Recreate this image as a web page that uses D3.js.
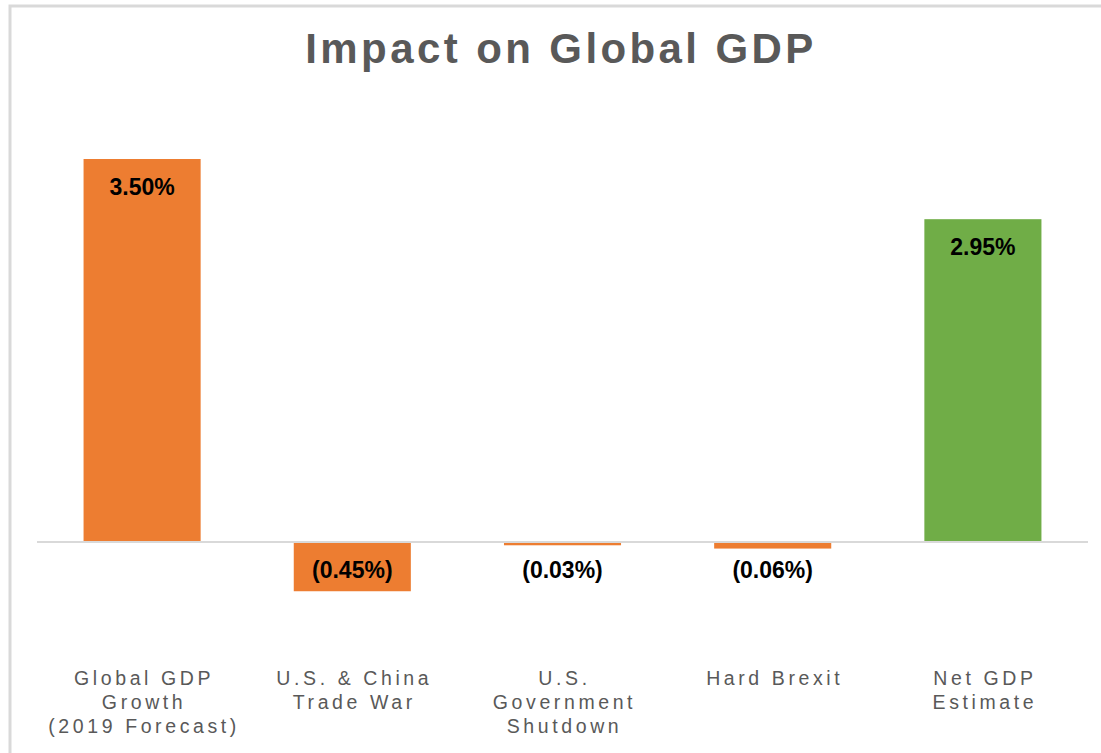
<!DOCTYPE html>
<html>
<head>
<meta charset="utf-8">
<script src="https://cdn.jsdelivr.net/npm/d3@7"></script>
<style>
  body { margin: 0; background: #fff; }
  svg { display: block; font-family: "Liberation Sans", Arial, sans-serif; }
</style>
</head>
<body>
<div id="chart"></div>
<script>
// chart data
const categories = ["Global GDP Growth (2019 Forecast)", "U.S. & China Trade War", "U.S. Government Shutdown", "Hard Brexit", "Net GDP Estimate"];
const categoryLines = [
    ["Global GDP", "Growth", "(2019 Forecast)"],
    ["U.S. & China", "Trade War"],
    ["U.S.", "Government", "Shutdown"],
    ["Hard Brexit"],
    ["Net GDP", "Estimate"]
];
const values = [3.50, -0.45, -0.03, -0.06, 2.95];
const valueLabels = ["3.50%", "(0.45%)", "(0.03%)", "(0.06%)", "2.95%"];
const barColors = ["#ED7D31", "#ED7D31", "#ED7D31", "#ED7D31", "#70AD47"];

const width = 1101, height = 753;

let svg = d3.select("#chart")
    .append("svg")
    .attr("width", width)
    .attr("height", height);

// cropped chart border (left and top edges visible)
svg.append("path")
    .attr("d", "M10," + height + " L10,6 L" + width + ",6")
    .attr("fill", "none")
    .attr("stroke", "#d9d9d9")
    .attr("stroke-width", 3);

// title
svg.append("text")
    .attr("x", 561)
    .attr("y", 63)
    .attr("text-anchor", "middle")
    .attr("font-size", 42)
    .attr("font-weight", "bold")
    .attr("letter-spacing", 3.4)
    .attr("fill", "#595959")
    .text("Impact on Global GDP");

// scales
let x = d3.scaleBand()
    .domain(categories)
    .range([37, 1088])
    .paddingInner(0.443)
    .paddingOuter(0.2215);

let y = d3.scaleLinear()
    .domain([0, 3.5])
    .range([542, 159]);

// bars
svg.selectAll("rect.bar")
    .data(values)
    .enter()
    .append("rect")
    .attr("class", "bar")
    .attr("x", (d, i) => x(categories[i]))
    .attr("width", x.bandwidth())
    .attr("y", d => Math.min(y(d), y(0)))
    .attr("height", d => Math.abs(y(d) - y(0)))
    .attr("fill", (d, i) => barColors[i]);

// zero line
svg.append("line")
    .attr("x1", x.range()[0])
    .attr("x2", x.range()[1])
    .attr("y1", y(0))
    .attr("y2", y(0))
    .attr("stroke", "#d9d9d9")
    .attr("stroke-width", 2);

// value labels
svg.selectAll("text.value")
    .data(values)
    .enter()
    .append("text")
    .attr("class", "value")
    .attr("x", (d, i) => x(categories[i]) + x.bandwidth() / 2)
    .attr("y", d => d >= 0 ? y(d) + 36 : y(0) + 36)
    .attr("text-anchor", "middle")
    .attr("font-size", 23)
    .attr("font-weight", "bold")
    .attr("fill", "#000")
    .text((d, i) => valueLabels[i]);

// category labels
let catGroup = svg.selectAll("text.cat")
    .data(categories)
    .enter()
    .append("text")
    .attr("class", "cat")
    .attr("text-anchor", "middle")
    .attr("font-size", 19.5)
    .attr("letter-spacing", 3.6)
    .attr("fill", "#595959");

catGroup.each(function(d, i) {
    let cx = x(d) + x.bandwidth() / 2;
    d3.select(this).selectAll("tspan")
        .data(categoryLines[i])
        .enter()
        .append("tspan")
        .attr("x", cx + 2)
        .attr("y", (l, j) => 685 + j * 24)
        .text(l => l);
});
</script>
</body>
</html>
